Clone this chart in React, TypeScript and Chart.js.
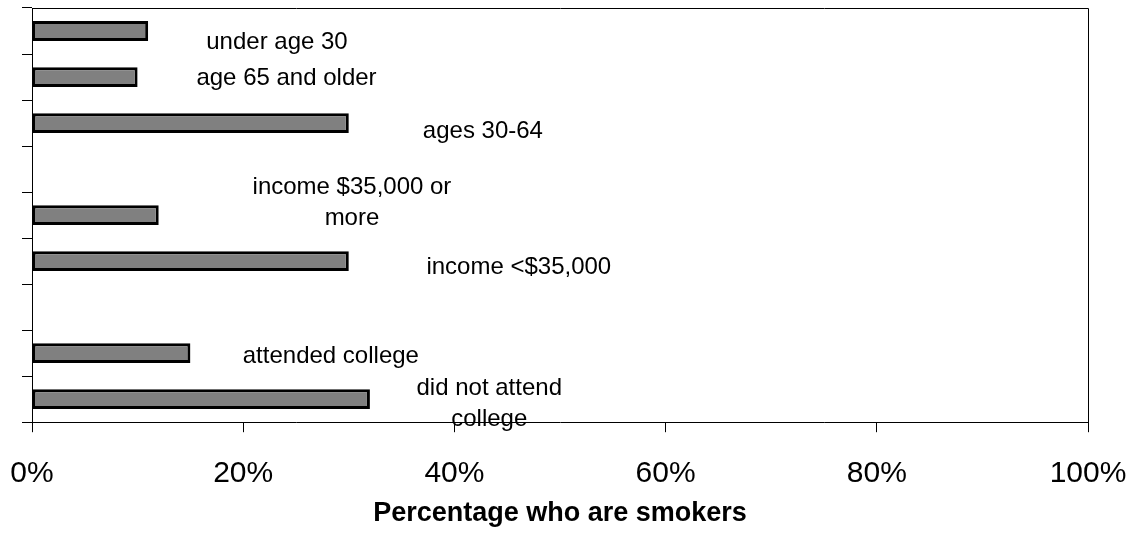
import React, { useEffect, useRef } from "react";
import { Chart, registerables } from "chart.js";

Chart.register(...registerables);

// ---- data ----
const categories: string[][] = [
  ["under age 30"],
  ["age 65 and older"],
  ["ages 30-64"],
  [""],
  ["income $35,000 or", "more"],
  ["income <$35,000"],
  [""],
  ["attended college"],
  ["did not attend", "college"],
];
const smokerPct: (number | null)[] = [11, 10, 30, null, 12, 30, null, 15, 32];
const xTickStep = 20;
const xMin = 0;
const xMax = 100;
const axisTitle = "Percentage who are smokers";

// ---- annotation layout for the category text (axis units) ----
const labelCenterPct: (number | null)[] = [23.2, 24.1, 42.7, null, 30.3, 46.1, null, 28.3, 43.3];
const labelShiftCat: (number | null)[] = [0.24, 0.04, 0.17, null, -0.26, 0.13, null, 0.07, 0.1];

const FONT = "'Liberation Sans', Arial, Helvetica, sans-serif";

const categoryTextPlugin = {
  id: "categoryText",
  afterDatasetsDraw(chart: any) {
    const ctx = chart.ctx;
    const xs = chart.scales.x;
    const ys = chart.scales.y;
    const step = ys.getPixelForValue(1) - ys.getPixelForValue(0);
    ctx.save();
    ctx.fillStyle = "#000";
    ctx.font = `24px ${FONT}`;
    ctx.textAlign = "center";
    ctx.textBaseline = "middle";
    categories.forEach((lines, i) => {
      const cx = labelCenterPct[i];
      const sh = labelShiftCat[i];
      if (cx == null || sh == null) return;
      const x = xs.getPixelForValue(cx);
      const yc = ys.getPixelForValue(i) + sh * step;
      const lh = 31;
      const y0 = yc - ((lines.length - 1) * lh) / 2;
      lines.forEach((t, k) => ctx.fillText(t, x, y0 + k * lh));
    });
    ctx.restore();
  },
  afterDraw(chart: any) {
    const { ctx, chartArea } = chart;
    ctx.save();
    ctx.strokeStyle = "#000";
    ctx.lineWidth = 1;
    ctx.beginPath();
    ctx.moveTo(Math.round(chartArea.left) + 0.5, Math.round(chartArea.top) + 0.5);
    ctx.lineTo(Math.round(chartArea.right) + 0.5, Math.round(chartArea.top) + 0.5);
    ctx.lineTo(Math.round(chartArea.right) + 0.5, Math.round(chartArea.bottom) + 0.5);
    ctx.stroke();
    ctx.restore();
  },
};

export default function App() {
  const ref = useRef<HTMLCanvasElement | null>(null);
  useEffect(() => {
    if (!ref.current) return;
    const chart = new Chart(ref.current, {
      type: "bar",
      data: {
        labels: categories.map((l) => l.join(" ")),
        datasets: [
          {
            data: smokerPct as any,
            backgroundColor: "#808080",
            borderColor: "#000000",
            borderWidth: 3,
            borderSkipped: false,
            categoryPercentage: 1,
            barPercentage: 0.43,
          },
        ],
      },
      options: {
        indexAxis: "y",
        animation: false,
        responsive: false,
        maintainAspectRatio: false,
        layout: { padding: { left: 22, right: 48, top: 8, bottom: 0 } },
        plugins: { legend: { display: false }, tooltip: { enabled: false } },
        scales: {
          x: {
            min: xMin,
            max: xMax,
            afterFit: (s: any) => {
              s.paddingLeft = 0;
              s.paddingRight = 0;
            },
            ticks: {
              stepSize: xTickStep,
              callback: (v: any) => `${v}%`,
              color: "#000",
              font: { family: FONT, size: 30 },
              padding: 24,
              maxRotation: 0,
            },
            grid: {
              drawOnChartArea: false,
              drawTicks: true,
              tickLength: 10,
              color: "#000",
            },
            border: { display: true, color: "#000", width: 1 },
            title: {
              display: true,
              text: axisTitle,
              color: "#000",
              font: { family: FONT, size: 27, weight: "bold" },
              padding: { top: -18.6, bottom: 5 },
            },
          },
          y: {
            ticks: { display: false },
            grid: {
              drawOnChartArea: false,
              drawTicks: true,
              tickLength: 10,
              offset: true,
              color: "#000",
            },
            border: { display: true, color: "#000", width: 1 },
          },
        },
      },
      plugins: [categoryTextPlugin],
    });
    return () => chart.destroy();
  }, []);
  return (
    <div style={{ position: "fixed", left: 0, top: 0, width: 1136, height: 535, background: "#fff" }}>
      <canvas ref={ref} width={1136} height={535} style={{ width: 1136, height: 535 }} />
    </div>
  );
}
